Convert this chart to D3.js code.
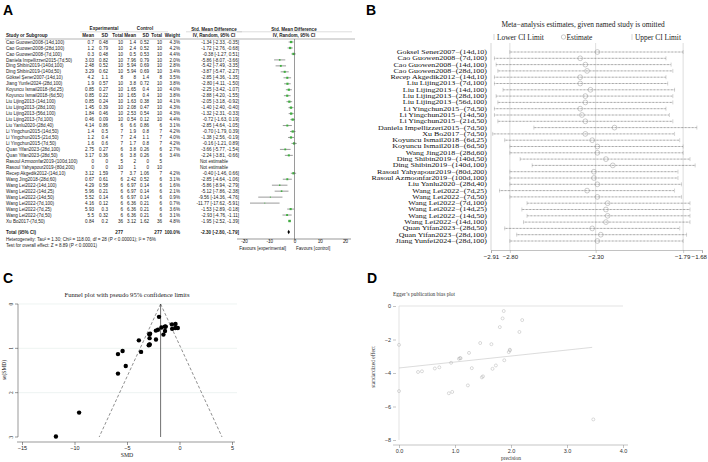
<!DOCTYPE html>
<html>
<head>
<meta charset="utf-8">
<script src="https://cdn.jsdelivr.net/npm/d3@7"></script>
<style>
  body { margin: 0; background: #fff; }
  svg { display: block; }
  .sans { font-family: "Liberation Sans", Arial, sans-serif; }
  .serif { font-family: "Liberation Serif", "Times New Roman", serif; }
</style>
</head>
<body>
<script>
// ---------- Panel A: forest plot data ----------
const studies = [
  'Cao Guowen2008-(14d,100)', 'Cao Guowen2008-(28d,100)', 'Cao Guowen2008-(7d,100)',
  'Daniela Impellizzeri2015-(7d,50)', 'Ding Shibin2019-(140d,100)', 'Ding Shibin2019-(140d,50)',
  'Göksel Şener2007-(14d,10)', 'Jiang Yunfei2024-(28d,100)', 'Koyuncu Ismail2018-(6d,25)',
  'Koyuncu Ismail2018-(6d,50)', 'Liu Lijing2013-(14d,100)', 'Liu Lijing2013-(28d,100)',
  'Liu Lijing2013-(56d,100)', 'Liu Lijing2013-(7d,100)', 'Liu Yanlu2020-(28d,40)',
  'Li Yingchun2015-(14d,50)', 'Li Yingchun2015-(21d,50)', 'Li Yingchun2015-(7d,50)',
  'Quan Yifan2023-(28d,100)', 'Quan Yifan2023-(28d,50)', 'Rasoul Azmoonfar2019-(100d,100)',
  'Rasoul Yahyapour2019-(80d,200)', 'Recep Akgedik2012-(14d,10)', 'Wang Jing2018-(28d,60)',
  'Wang Lei2022-(14d,100)', 'Wang Lei2022-(14d,25)', 'Wang Lei2022-(14d,50)',
  'Wang Lei2022-(7d,100)', 'Wang Lei2022-(7d,25)', 'Wang Lei2022-(7d,50)', 'Xu Bo2017-(7d,50)'
];
const expMean = [0.7, 1.2, 0.3, 3.03, 2.48, 3.29, 4.2, 1.9, 0.85, 0.85, 0.85, 1.45, 1.84, 0.46, 4.14,
  1.4, 1.2, 1.6, 2.75, 3.17, 0, 0, 3.12, 0.67, 4.29, 5.96, 5.52, 4.16, 5.93, 5.5, 0.84];
const expSD = [0.48, 0.79, 0.48, 0.82, 0.52, 0.62, 1.1, 0.57, 0.27, 0.22, 0.24, 0.39, 0.46, 0.09, 0.86,
  0.5, 0.4, 0.6, 0.27, 0.36, 0, 0, 1.59, 0.61, 0.58, 0.21, 0.14, 0.12, 0.3, 0.32, 0.2];
const expN = [10, 10, 10, 10, 10, 10, 8, 10, 10, 10, 10, 10, 10, 10, 6, 7, 7, 7, 6, 6, 5, 10, 7, 6,
  6, 6, 6, 6, 6, 6, 36];
const ctlMean = [1.4, 2.4, 0.5, 7.96, 5.94, 5.94, 8, 3.8, 1.65, 1.65, 1.63, 2.08, 2.53, 0.54, 6.6,
  1.9, 2.4, 1.7, 3.8, 3.8, 2, 1, 3.7, 2.42, 6.97, 6.97, 6.97, 6.36, 6.36, 6.36, 3.12];
const ctlSD = [0.52, 0.52, 0.53, 0.79, 0.69, 0.69, 1.4, 0.72, 0.4, 0.4, 0.38, 0.47, 0.54, 0.12, 0.86,
  0.8, 1.1, 0.8, 0.26, 0.26, 0, 0, 1.06, 0.52, 0.14, 0.14, 0.14, 0.21, 0.21, 0.21, 1.62];
const ctlN = expN;
const weights = [4.3, 4.2, 4.4, 2.0, 2.8, 3.4, 3.5, 3.8, 4.0, 3.8, 4.1, 4.3, 4.3, 4.4, 3.1, 4.2, 4.0,
  4.2, 2.7, 3.4, null, null, 4.2, 3.1, 1.6, 2.1, 0.9, 0.7, 3.6, 3.1, 4.8];
const smd = [-1.34, -1.72, -0.38, -5.86, -5.42, -3.87, -2.85, -2.80, -2.25, -2.88, -2.05, -1.40, -1.32,
  -0.72, -2.85, -0.70, -1.38, -0.16, -3.66, -2.24, null, null, -0.40, -2.85, -5.86, -5.12, -9.56,
  -11.77, -1.53, -2.93, -1.95];
const ciLow = [-2.33, -2.76, -1.27, -8.07, -7.49, -5.47, -4.36, -4.11, -3.42, -4.20, -3.18, -2.40, -2.31,
  -1.63, -4.64, -1.79, -2.56, -1.21, -5.77, -3.81, null, null, -1.46, -4.64, -8.94, -7.86, -14.36,
  -17.62, -2.89, -4.76, -2.52];
const ciHigh = [-0.35, -0.68, 0.51, -3.66, -3.35, -2.27, -1.35, -1.50, -1.07, -1.55, -0.92, -0.40, -0.33,
  0.19, -1.05, 0.39, -0.19, 0.89, -1.54, -0.66, null, null, 0.66, -1.06, -2.79, -2.38, -4.76,
  -5.91, -0.18, -1.11, -1.39];
const totalN = [277, 277];
const totalEffect = [-2.30, -2.80, -1.79];
const forestTicks = [-20, -10, 0, 10, 20];

// ---------- Panel B: leave-one-out data ----------
const looNames = [
  'Goksel Sener2007−(14d,10)', 'Cao Guowen2008−(7d,100)', 'Cao Guowen2008−(14d,100)',
  'Cao Guowen2008−(28d,100)', 'Recep Akgedik2012−(14d,10)', 'Liu Lijing2013−(7d,100)',
  'Liu Lijing2013−(14d,100)', 'Liu Lijing2013−(28d,100)', 'Liu Lijing2013−(56d,100)',
  'Li Yingchun2015−(7d,50)', 'Li Yingchun2015−(14d,50)', 'Li Yingchun2015−(21d,50)',
  'Daniela Impellizzeri2015−(7d,50)', 'Xu Bo2017−(7d,50)', 'Koyuncu Ismail2018−(6d,25)',
  'Koyuncu Ismail2018−(6d,50)', 'Wang Jing2018−(28d,60)', 'Ding Shibin2019−(140d,50)',
  'Ding Shibin2019−(140d,100)', 'Rasoul Yahyapour2019−(80d,200)', 'Rasoul Azmoonfar2019−(100d,100)',
  'Liu Yanlu2020−(28d,40)', 'Wang Lei2022−(7d,25)', 'Wang Lei2022−(7d,50)', 'Wang Lei2022−(7d,100)',
  'Wang Lei2022−(14d,25)', 'Wang Lei2022−(14d,50)', 'Wang Lei2022−(14d,100)',
  'Quan Yifan2023−(28d,50)', 'Quan Yifan2023−(28d,100)', 'Jiang Yunfei2024−(28d,100)'
];
const looEst = [-2.29, -2.39, -2.36, -2.35, -2.39, -2.39, -2.33, -2.36, -2.36, -2.39, -2.38, -2.36,
  -2.19, -2.36, -2.32, -2.29, -2.29, -2.24, -2.20, -2.31, -2.31, -2.29, -2.35, -2.29, -2.23, -2.24,
  -2.23, -2.24, -2.32, -2.27, -2.29];
const looLow = [-2.80, -2.89, -2.88, -2.87, -2.89, -2.89, -2.84, -2.88, -2.87, -2.89, -2.89, -2.87,
  -2.66, -2.90, -2.83, -2.80, -2.80, -2.74, -2.67, -2.80, -2.80, -2.80, -2.86, -2.80, -2.70, -2.73,
  -2.70, -2.72, -2.83, -2.76, -2.80];
const looHigh = [-1.79, -1.89, -1.86, -1.85, -1.89, -1.88, -1.84, -1.85, -1.85, -1.89, -1.87, -1.85,
  -1.71, -1.84, -1.81, -1.79, -1.79, -1.75, -1.72, -1.82, -1.82, -1.80, -1.84, -1.80, -1.75, -1.75,
  -1.75, -1.75, -1.81, -1.77, -1.79];
const looTicks = [-2.91, -2.80, -2.30, -1.79, -1.68];
const looRefLines = [-2.80, -2.30, -1.79];

// ---------- Panel C: funnel plot data ----------
const funnelSmd = [-1.34, -1.72, -0.38, -5.86, -5.42, -3.87, -2.85, -2.80, -2.25, -2.88, -2.05, -1.40,
  -1.32, -0.72, -2.85, -0.70, -1.38, -0.16, -3.66, -2.24, -0.40, -2.85, -5.86, -5.12, -9.56, -11.77,
  -1.53, -2.93, -1.95];
const funnelSe = [0.51, 0.53, 0.45, 1.13, 1.06, 0.82, 0.77, 0.67, 0.60, 0.68, 0.58, 0.51, 0.51, 0.46,
  0.92, 0.56, 0.61, 0.54, 1.08, 0.80, 0.54, 0.91, 1.57, 1.40, 2.45, 2.99, 0.69, 0.93, 0.29];
const funnelLineSe = [0, 3];
const funnelLeft = [-1.8, -7.65];
const funnelRight = [-1.8, 4.05];
const funnelXTicks = [-15, -10, -5, 0, 5];
const funnelYTicks = [0, 1, 2, 3];

// ---------- Panel D: Egger plot data ----------
const eggerPrecision = [1.98, 1.88, 2.20, 0.89, 0.95, 1.23, 1.30, 1.50, 1.67, 1.48, 1.73, 1.96, 1.98,
  2.15, 1.09, 1.80, 1.65, 1.87, 0.93, 1.25, 1.85, 1.10, 0.64, 0.72, 0.41, 0.34, 1.45, 1.07, 3.47, 0, 0];
const eggerEffect = [-2.65, -3.24, -0.84, -5.21, -5.13, -4.74, -3.71, -4.20, -3.75, -4.26, -3.55, -2.75,
  -2.61, -1.55, -3.11, -1.26, -2.28, -0.30, -3.39, -2.80, -0.74, -3.12, -3.73, -3.66, -3.90, -3.94,
  -2.21, -3.15, -6.77, -2.32, -5.08];
const eggerFitX = [0, 3.45];
const eggerFitY = [-3.70, -2.47];
const eggerXTicks = [0, 1, 2, 3, 4];
const eggerYTicks = [0, -2, -4, -6, -8];

const svg = d3.select('body').append('svg')
  .attr('width', 708).attr('height', 462)
  .attr('viewBox', '0 0 708 462');

// panel letters
const letters = [['A', 3, 15], ['B', 366, 15], ['C', 3, 283], ['D', 367, 283]];
svg.selectAll('.letter').data(letters).enter().append('text')
  .attr('class', 'sans')
  .attr('x', d => d[1])
  .attr('y', d => d[2])
  .attr('font-size', 14).attr('font-weight', 'bold')
  .text(d => d[0]);

// ================= Panel A =================
const a = svg.append('g').attr('class', 'sans').attr('font-size', 4.6).attr('fill', '#222');
const rowY = d3.scalePoint().domain(d3.range(studies.length)).range([42, 221]);
const fx = d3.scaleLinear().domain([-20, 20]).range([244, 345]);

// headers
const hdr = [
  ['Experimental', 104, 30, 'middle'], ['Control', 145, 30, 'middle'],
  ['Std. Mean Difference', 214, 30.5, 'middle'], ['IV, Random, 95% CI', 214, 36.5, 'middle'],
  ['Std. Mean Difference', 294, 30.5, 'middle'], ['IV, Random, 95% CI', 294, 36.5, 'middle'],
  ['Study or Subgroup', 6, 37, 'start'], ['Mean', 94, 37, 'end'], ['SD', 108, 37, 'end'],
  ['Total', 123, 37, 'end'], ['Mean', 136, 37, 'end'], ['SD', 149, 37, 'end'],
  ['Total', 162, 37, 'end'], ['Weight', 180, 37, 'end']
];
a.selectAll('.hdr').data(hdr).enter().append('text')
  .attr('x', d => d[1]).attr('y', d => d[2]).attr('text-anchor', d => d[3])
  .attr('font-weight', 'bold').text(d => d[0]);
a.append('line').attr('x1', 5).attr('x2', 355).attr('y1', 39).attr('y2', 39)
  .attr('stroke', '#444').attr('stroke-width', 0.4);
[[80, 128], [126, 168], [186, 242], [237, 352]].forEach(s => {
  a.append('line').attr('x1', s[0]).attr('x2', s[1]).attr('y1', 31.8).attr('y2', 31.8)
    .attr('stroke', '#888').attr('stroke-width', 0.3);
});

const rows = a.selectAll('.row').data(studies).enter().append('g')
  .attr('transform', (d, i) => `translate(0,${rowY(i)})`);
rows.append('text').attr('x', 6).attr('dy', '0.35em').text(d => d);
const cols = [[expMean, 94], [expSD, 108], [expN, 123], [ctlMean, 136], [ctlSD, 149], [ctlN, 162]];
cols.forEach(c => {
  rows.append('text').attr('x', c[1]).attr('dy', '0.35em').attr('text-anchor', 'end')
    .text((d, i) => String(c[0][i]));
});
rows.append('text').attr('x', 180).attr('dy', '0.35em').attr('text-anchor', 'end')
  .text((d, i) => weights[i] == null ? '' : weights[i].toFixed(1) + '%');
rows.append('text')
  .attr('x', (d, i) => smd[i] == null ? 214 : 239)
  .attr('dy', '0.35em')
  .attr('text-anchor', (d, i) => smd[i] == null ? 'middle' : 'end')
  .text((d, i) => smd[i] == null ? 'Not estimable'
    : `${smd[i].toFixed(2)} [${ciLow[i].toFixed(2)}, ${ciHigh[i].toFixed(2)}]`);

// forest marks
rows.each(function(d, i) {
  if (smd[i] == null) return;
  const g = d3.select(this);
  g.append('line').attr('x1', fx(ciLow[i])).attr('x2', fx(ciHigh[i]))
    .attr('stroke', '#555').attr('stroke-width', 0.6);
  const s = 1.1 * Math.sqrt(weights[i]);
  g.append('rect').attr('x', fx(smd[i]) - s / 2).attr('y', -s / 2)
    .attr('width', s).attr('height', s).attr('fill', '#3fae3f');
});

// total row
const totY = 232;
a.append('text').attr('x', 6).attr('y', totY).attr('dy', '0.35em').attr('font-weight', 'bold').text('Total (95% CI)');
a.append('text').attr('x', 123).attr('y', totY).attr('dy', '0.35em').attr('text-anchor', 'end').attr('font-weight', 'bold').text(totalN[0]);
a.append('text').attr('x', 162).attr('y', totY).attr('dy', '0.35em').attr('text-anchor', 'end').attr('font-weight', 'bold').text(totalN[1]);
a.append('text').attr('x', 180).attr('y', totY).attr('dy', '0.35em').attr('text-anchor', 'end').attr('font-weight', 'bold').text('100.0%');
a.append('text').attr('x', 239).attr('y', totY).attr('dy', '0.35em').attr('text-anchor', 'end').attr('font-weight', 'bold')
  .text(`${totalEffect[0].toFixed(2)} [${totalEffect[1].toFixed(2)}, ${totalEffect[2].toFixed(2)}]`);
a.append('text').attr('x', 6).attr('y', 239).attr('dy', '0.35em')
  .text('Heterogeneity: Tau² = 1.30; Chi² = 118.00, df = 28 (P < 0.00001); I² = 76%');
a.append('text').attr('x', 6).attr('y', 245).attr('dy', '0.35em')
  .text('Test for overall effect: Z = 8.89 (P < 0.00001)');
a.append('path')
  .attr('d', `M${fx(totalEffect[1])},${totY} L${fx(totalEffect[0])},${totY - 2.2} L${fx(totalEffect[2])},${totY} L${fx(totalEffect[0])},${totY + 2.2} Z`)
  .attr('fill', '#000');

// zero line and axis
a.append('line').attr('x1', fx(0)).attr('x2', fx(0)).attr('y1', 39).attr('y2', 239)
  .attr('stroke', '#555').attr('stroke-width', 0.6);
a.append('line').attr('x1', 237).attr('x2', 351).attr('y1', 239).attr('y2', 239)
  .attr('stroke', '#555').attr('stroke-width', 0.6);
const fAxis = a.append('g').attr('transform', 'translate(0,239)')
  .call(d3.axisBottom(fx).tickValues(forestTicks).tickSize(2).tickFormat(d => d < 0 ? '-' + Math.abs(d) : d));
fAxis.select('.domain').remove();
fAxis.selectAll('line').attr('stroke', '#555').attr('stroke-width', 0.5);
fAxis.selectAll('text').attr('font-size', 4.6).attr('font-family', null).attr('fill', '#222').attr('dy', '0.4em').attr('y', 2.5);
a.append('text').attr('x', 286).attr('y', 250).attr('text-anchor', 'end').text('Favours [experimental]');
a.append('text').attr('x', 296).attr('y', 250).attr('text-anchor', 'start').text('Favours [control]');

// ================= Panel B =================
const b = svg.append('g').attr('class', 'serif').attr('fill', '#222');
const bx = d3.scaleLinear().domain([-2.91, -1.68]).range([491, 702]);
const by = d3.scalePoint().domain(d3.range(looNames.length)).range([52, 241]);
const bBottom = 250;

b.append('text').attr('x', 583).attr('y', 27).attr('text-anchor', 'middle').attr('font-size', 7.4)
  .text('Meta−analysis estimates, given named study is omitted');
// legend
b.append('line').attr('x1', 494).attr('x2', 494).attr('y1', 34).attr('y2', 40).attr('stroke', '#aaa').attr('stroke-width', 0.5);
b.append('text').attr('x', 497).attr('y', 39.5).attr('font-size', 7.4).text('Lower CI Limit');
b.append('circle').attr('cx', 563.5).attr('cy', 37).attr('r', 2.2).attr('fill', 'none').attr('stroke', '#999').attr('stroke-width', 0.5);
b.append('text').attr('x', 566.5).attr('y', 39.5).attr('font-size', 7.4).text('Estimate');
b.append('line').attr('x1', 632).attr('x2', 632).attr('y1', 34).attr('y2', 40).attr('stroke', '#aaa').attr('stroke-width', 0.5);
b.append('text').attr('x', 635).attr('y', 39.5).attr('font-size', 7.4).text('Upper CI Limit');

// reference lines
b.selectAll('.ref').data(looRefLines).enter().append('line')
  .attr('x1', d => bx(d)).attr('x2', d => bx(d)).attr('y1', 43).attr('y2', bBottom)
  .attr('stroke', '#c8c8c8').attr('stroke-width', 0.6);
b.append('line').attr('x1', bx(-2.91)).attr('x2', bx(-2.91)).attr('y1', 43).attr('y2', bBottom)
  .attr('stroke', '#bbb').attr('stroke-width', 0.6);

const brow = b.selectAll('.brow').data(looNames).enter().append('g')
  .attr('transform', (d, i) => `translate(0,${by(i)})`);
// labels: wide serif text squeezed vertically so neighbouring rows do not collide
brow.append('text').attr('transform', 'translate(487,0) scale(1.45,1)')
  .attr('dy', '0.35em').attr('text-anchor', 'end')
  .attr('font-size', 5.5).attr('fill', '#111').text(d => d);
brow.append('line')
  .attr('x1', (d, i) => bx(looLow[i])).attr('x2', (d, i) => bx(looHigh[i]))
  .attr('stroke', '#333').attr('stroke-width', 0.6).attr('stroke-dasharray', '0.7,0.7');
brow.append('line')
  .attr('x1', (d, i) => bx(looLow[i])).attr('x2', (d, i) => bx(looLow[i]))
  .attr('y1', -2).attr('y2', 2).attr('stroke', '#aaa').attr('stroke-width', 0.5);
brow.append('line')
  .attr('x1', (d, i) => bx(looHigh[i])).attr('x2', (d, i) => bx(looHigh[i]))
  .attr('y1', -2).attr('y2', 2).attr('stroke', '#aaa').attr('stroke-width', 0.5);
brow.append('circle')
  .attr('cx', (d, i) => bx(looEst[i])).attr('r', 2.4)
  .attr('fill', 'none').attr('stroke', '#999').attr('stroke-width', 0.5);

const bAxis = b.append('g').attr('transform', `translate(0,${bBottom})`)
  .call(d3.axisBottom(bx).tickValues(looTicks).tickSize(3).tickFormat(d3.format('.2f')));
bAxis.select('.domain').attr('stroke', '#999').attr('stroke-width', 0.6);
bAxis.selectAll('line').attr('stroke', '#999').attr('stroke-width', 0.5);
bAxis.selectAll('text').attr('font-size', 6.1).attr('font-family', null).attr('fill', '#222').attr('y', 5)
  .attr('text-anchor', (d, i) => i === looTicks.length - 1 ? 'end' : 'middle')
  .attr('dx', (d, i) => i === looTicks.length - 1 ? 4.5 : i === looTicks.length - 2 ? -1 : 0);

// ================= Panel C =================
const c = svg.append('g').attr('class', 'serif').attr('fill', '#222');
const cx = d3.scaleLinear().domain([-15, 5]).range([22, 232]);
const cy = d3.scaleLinear().domain([0, 3]).range([304, 437]);

c.append('text').attr('x', 127).attr('y', 297).attr('text-anchor', 'middle').attr('font-size', 6.6)
  .text('Funnel plot with pseudo 95% confidence limits');
c.selectAll('.grid').data([0, 1, 2]).enter().append('line')
  .attr('x1', 18).attr('x2', 237).attr('y1', d => cy(d)).attr('y2', d => cy(d))
  .attr('stroke', '#e3ece9').attr('stroke-width', 0.6);

// y axis
c.append('line').attr('x1', 18).attr('x2', 18).attr('y1', cy(0)).attr('y2', cy(3)).attr('stroke', '#333').attr('stroke-width', 0.5);
c.selectAll('.ytk').data(funnelYTicks).enter().append('line')
  .attr('x1', 15).attr('x2', 18).attr('y1', d => cy(d)).attr('y2', d => cy(d))
  .attr('stroke', '#333').attr('stroke-width', 0.5);
c.selectAll('.ylab').data(funnelYTicks).enter().append('text')
  .attr('transform', d => `translate(13,${cy(d)}) rotate(-90)`)
  .attr('text-anchor', 'middle').attr('font-size', 5.5).text(d => d);
c.append('text').attr('transform', `translate(6,370) rotate(-90)`)
  .attr('text-anchor', 'middle').attr('font-size', 5.5).text('se(SMD)');

// x axis
const cAxis = c.append('g').attr('transform', 'translate(0,442)')
  .call(d3.axisBottom(cx).tickValues(funnelXTicks).tickSize(3).tickFormat(d => d < 0 ? '−' + Math.abs(d) : d));
cAxis.select('.domain').attr('d', 'M17,0H235').attr('stroke', '#333').attr('stroke-width', 0.5);
cAxis.selectAll('line').attr('stroke', '#333').attr('stroke-width', 0.5);
cAxis.selectAll('text').attr('font-size', 5.5).attr('font-family', null).attr('fill', '#222').attr('y', 4);
c.append('text').attr('x', 127).attr('y', 457).attr('text-anchor', 'middle').attr('font-size', 5.8).text('SMD');

// funnel lines
const fline = d3.line().x(d => cx(d[0])).y(d => cy(d[1]));
c.append('path').datum(funnelLineSe.map((s, i) => [funnelLeft[i], s])).attr('d', fline)
  .attr('fill', 'none').attr('stroke', '#444').attr('stroke-width', 0.6).attr('stroke-dasharray', '3,2');
c.append('path').datum(funnelLineSe.map((s, i) => [funnelRight[i], s])).attr('d', fline)
  .attr('fill', 'none').attr('stroke', '#444').attr('stroke-width', 0.6).attr('stroke-dasharray', '3,2');
c.append('path').datum(funnelLineSe.map(s => [funnelLeft[0], s])).attr('d', fline)
  .attr('fill', 'none').attr('stroke', '#333').attr('stroke-width', 0.7);
c.selectAll('.fpt').data(funnelSmd).enter().append('circle')
  .attr('cx', d => cx(d)).attr('cy', (d, i) => cy(funnelSe[i])).attr('r', 2.2).attr('fill', '#000');

// ================= Panel D =================
const e = svg.append('g').attr('class', 'serif').attr('fill', '#333');
const ex = d3.scaleLinear().domain([0, 4]).range([399, 623]);
const ey = d3.scaleLinear().domain([0, -8]).range([306, 440]);

e.append('text').attr('x', 393).attr('y', 296).attr('font-size', 5.4).text('Egger’s publication bias plot');
e.append('line').attr('x1', ex(0)).attr('x2', ex(4)).attr('y1', ey(0)).attr('y2', ey(0))
  .attr('stroke', '#d0d0d0').attr('stroke-width', 0.6);
e.append('line').attr('x1', ex(0)).attr('x2', ex(0)).attr('y1', ey(0)).attr('y2', ey(-8))
  .attr('stroke', '#d0d0d0').attr('stroke-width', 0.6);

const eyAxis = e.append('g').attr('transform', 'translate(396,0)')
  .call(d3.axisLeft(ey).tickValues(eggerYTicks).tickSize(3).tickFormat(d => d < 0 ? '−' + Math.abs(d) : d));
eyAxis.select('.domain').remove();
eyAxis.selectAll('line').attr('stroke', '#888').attr('stroke-width', 0.5);
eyAxis.selectAll('text').attr('font-size', 5.5).attr('font-family', null).attr('fill', '#333').attr('x', -5);
e.append('text').attr('transform', 'translate(375,367) rotate(-90)')
  .attr('text-anchor', 'middle').attr('font-size', 5.5).text('standardized effect');

const exAxis = e.append('g').attr('transform', 'translate(0,445)')
  .call(d3.axisBottom(ex).tickValues(eggerXTicks).tickSize(3));
exAxis.select('.domain').attr('d', `M393,0H628`).attr('stroke', '#888').attr('stroke-width', 0.5);
exAxis.selectAll('line').attr('stroke', '#888').attr('stroke-width', 0.5);
exAxis.selectAll('text').attr('font-size', 5.5).attr('font-family', null).attr('fill', '#333').attr('y', 4);
e.append('text').attr('x', 511).attr('y', 460).attr('text-anchor', 'middle').attr('font-size', 5.5).text('precision');

e.append('line')
  .attr('x1', ex(eggerFitX[0])).attr('y1', ey(eggerFitY[0]))
  .attr('x2', ex(eggerFitX[1])).attr('y2', ey(eggerFitY[1]))
  .attr('stroke', '#c4c4c4').attr('stroke-width', 0.6);
e.selectAll('.ept').data(eggerPrecision).enter().append('circle')
  .attr('cx', d => ex(d)).attr('cy', (d, i) => ey(eggerEffect[i])).attr('r', 1.5)
  .attr('fill', 'none').attr('stroke', '#b5b5b5').attr('stroke-width', 0.5);
</script>
</body>
</html>
